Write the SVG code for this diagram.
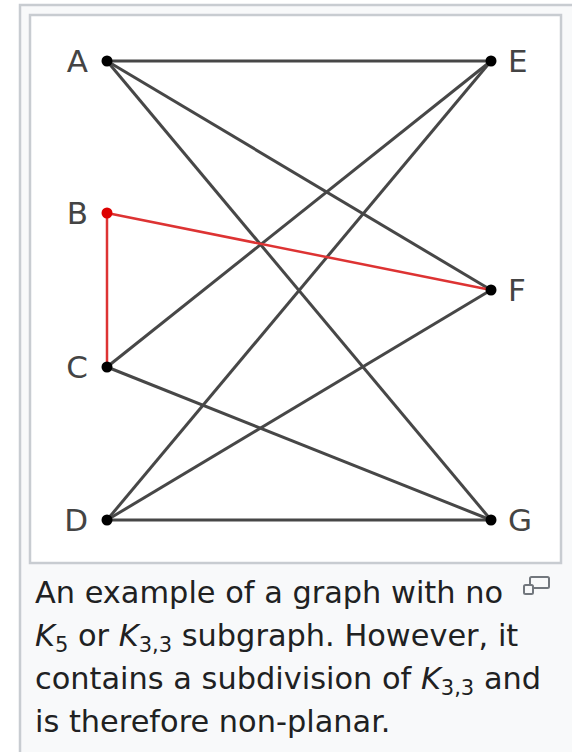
<svg xmlns="http://www.w3.org/2000/svg" width="572" height="752" viewBox="0 0 572 752">
<style>
.lbl{font-family:"DejaVu Sans","Liberation Sans",sans-serif;font-size:31px;fill:#444}
.cap{font-family:"DejaVu Sans","Liberation Sans",sans-serif;font-size:30.4px;fill:#202122}
.e{stroke:#474747;stroke-width:3;fill:none}
.r{stroke:#dd3333;stroke-width:2.5;fill:none}
.dot{fill:#000}
</style>
<rect x="20" y="5" width="560" height="760" fill="#f8f9fa" stroke="#c8ccd1" stroke-width="2.5"/>
<rect x="30" y="15" width="531" height="548" fill="#fff" stroke="#c8ccd1" stroke-width="2.5"/>
<g id="connectors">
<line class="e" x1="107" y1="61" x2="491" y2="61"/>
<line class="e" x1="107" y1="61" x2="491" y2="290"/>
<line class="e" x1="107" y1="61" x2="491" y2="520"/>
<line class="e" x1="107" y1="367" x2="491" y2="61"/>
<line class="e" x1="107" y1="367" x2="491" y2="520"/>
<line class="e" x1="107" y1="520" x2="491" y2="61"/>
<line class="e" x1="107" y1="520" x2="491" y2="290"/>
<line class="e" x1="107" y1="520" x2="491" y2="520"/>
<line class="r" x1="107" y1="213" x2="491" y2="290"/>
<line class="r" x1="107" y1="213" x2="107" y2="367"/>
</g>
<g id="A"><circle class="dot" cx="107" cy="61" r="5.5"/><text class="lbl" x="88" y="72" text-anchor="end">A</text></g>
<g id="B"><circle cx="107" cy="213" r="5.5" fill="#d00"/><text class="lbl" x="88" y="224" text-anchor="end">B</text></g>
<g id="C"><circle class="dot" cx="107" cy="367" r="5.5"/><text class="lbl" x="88" y="378" text-anchor="end">C</text></g>
<g id="D"><circle class="dot" cx="107" cy="520" r="5.5"/><text class="lbl" x="88" y="531" text-anchor="end">D</text></g>
<g id="E"><circle class="dot" cx="491" cy="61" r="5.5"/><text class="lbl" x="508" y="72">E</text></g>
<g id="F"><circle class="dot" cx="491" cy="290" r="5.5"/><text class="lbl" x="508" y="301">F</text></g>
<g id="G"><circle class="dot" cx="491" cy="520" r="5.5"/><text class="lbl" x="508" y="531">G</text></g>
<g id="magnify" fill="none" stroke="#72777d" stroke-width="2">
<rect x="530" y="577" width="19" height="11" rx="1.5"/>
<rect x="524" y="585" width="9" height="9" rx="1.5" fill="#f8f9fa"/>
</g>
<g id="caption">
<text class="cap" x="35" y="603">An example of a graph with no</text>
<text class="cap" x="35" y="646"><tspan font-style="italic">K</tspan><tspan font-size="21" dy="6">5</tspan><tspan dy="-6"> or </tspan><tspan font-style="italic">K</tspan><tspan font-size="21" dy="6">3,3</tspan><tspan dy="-6"> subgraph. However, it</tspan></text>
<text class="cap" x="35" y="689">contains a subdivision of <tspan font-style="italic">K</tspan><tspan font-size="21" dy="6">3,3</tspan><tspan dy="-6"> and</tspan></text>
<text class="cap" x="35" y="732">is therefore non-planar.</text>
</g>
</svg>
